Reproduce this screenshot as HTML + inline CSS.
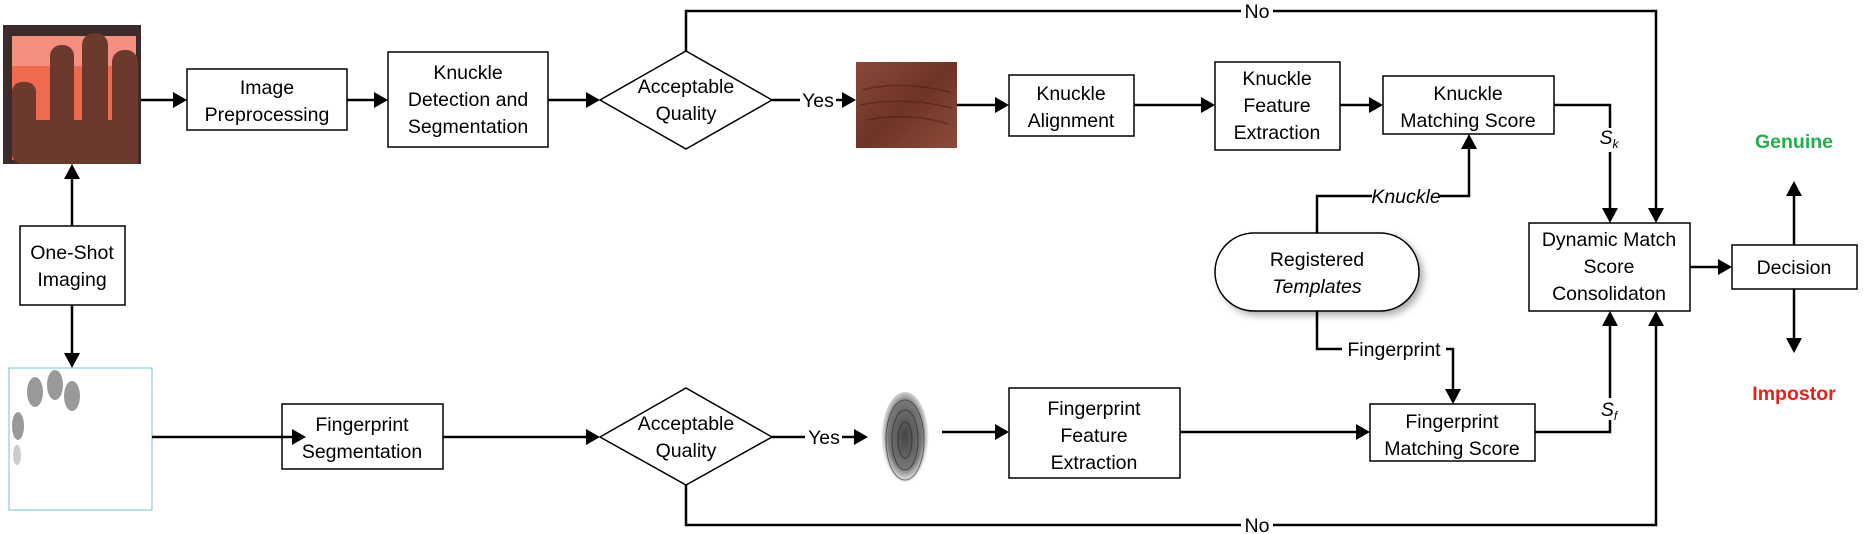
<!DOCTYPE html>
<html><head><meta charset="utf-8"><style>
html,body{margin:0;padding:0;background:#fff;}
svg{display:block;}
text{font-family:"Liberation Sans",sans-serif;font-size:19.5px;fill:#000;}
</style></head><body>
<svg width="1864" height="534" viewBox="0 0 1864 534" xmlns="http://www.w3.org/2000/svg">
<defs>
<filter id="sh" x="-20%" y="-20%" width="140%" height="140%"><feGaussianBlur stdDeviation="4"/></filter>
<linearGradient id="sk" x1="0" y1="0" x2="1" y2="1"><stop offset="0" stop-color="#8a4a3a"/><stop offset="0.5" stop-color="#6e3426"/><stop offset="1" stop-color="#8d4b3b"/></linearGradient>
<radialGradient id="fp" cx="0.5" cy="0.45" r="0.5"><stop offset="0" stop-color="#444"/><stop offset="0.7" stop-color="#777"/><stop offset="1" stop-color="#fff"/></radialGradient>
</defs>
<g fill="none" stroke="#000" stroke-width="2.5">
<rect x="3" y="25" width="138" height="139" fill="#3d2b2b" stroke="none"/>
<rect x="12" y="36" width="124" height="124" fill="#f06a50" stroke="none"/>
<rect x="12" y="36" width="124" height="30" fill="#f59080" stroke="none"/>
<g fill="#6b3a2c" stroke="none">
<rect x="12" y="82" width="24" height="82" rx="10"/>
<rect x="50" y="45" width="24" height="119" rx="11"/>
<rect x="82" y="33" width="26" height="131" rx="12"/>
<rect x="112" y="50" width="26" height="114" rx="12"/>
<rect x="20" y="120" width="118" height="44"/>
</g>
<rect x="9" y="368" width="143" height="142" fill="#fff" stroke="#6cc4d8" stroke-width="1"/>
<g fill="#999" stroke="none">
<ellipse cx="35" cy="392" rx="8" ry="15"/><ellipse cx="55" cy="385" rx="8" ry="15"/><ellipse cx="72" cy="396" rx="8" ry="15"/><ellipse cx="18" cy="426" rx="6" ry="14"/><ellipse cx="17" cy="455" rx="4" ry="10" fill="#ccc"/>
</g>
<rect x="856" y="62" width="101" height="86" fill="url(#sk)" stroke="none"/>
<g stroke="#4e2018" stroke-width="1.5" opacity="0.6"><path d="M862 90 Q900 80 950 92"/><path d="M860 105 Q905 96 952 108"/><path d="M866 120 Q910 112 948 124"/></g>
<ellipse cx="905" cy="440" rx="24" ry="48" fill="url(#fp)" stroke="none"/>
<g stroke="#222" stroke-width="1" opacity="0.6"><ellipse cx="905" cy="440" rx="19" ry="40"/><ellipse cx="905" cy="440" rx="13" ry="30"/><ellipse cx="905" cy="440" rx="7" ry="18"/></g>

<g stroke-width="1.5" fill="#fff">
<rect x="187" y="69" width="160" height="61"/>
<rect x="388" y="52" width="160" height="95"/>
<polygon points="600,100 686,51 772,100 686,149"/>
<rect x="20" y="226" width="105" height="79"/>
<rect x="282" y="404" width="161" height="65"/>
<polygon points="600,437 686,388 772,437 686,485"/>
<rect x="1009" y="75" width="125" height="61"/>
<rect x="1215" y="62" width="125" height="88"/>
<rect x="1383" y="76" width="171" height="58"/>
<rect x="1529" y="223" width="161" height="88"/>
<rect x="1732" y="245" width="125" height="44"/>
<rect x="1009" y="388" width="171" height="90"/>
<rect x="1370" y="404" width="165" height="57"/>
</g>
<rect x="1219" y="237" width="204" height="78" rx="39" fill="#000" opacity="0.35" stroke="none" filter="url(#sh)"/>
<rect x="1215" y="233" width="204" height="78" rx="39" fill="#fff" stroke-width="1.5"/>

<path d="M141 100H177"/><path d="M347 100H378"/><path d="M548 100H590"/>
<path d="M686 51V11H1656V213"/>
<path d="M772 100H800"/><path d="M836 100H846"/>
<path d="M957 105H999"/><path d="M1134 105H1205"/><path d="M1340 105H1373"/>
<path d="M1554 105H1610V128"/><path d="M1610 152V213"/>
<path d="M1317 233V196H1372"/><path d="M1440 196H1469V144"/>
<path d="M1317 311V349H1342"/><path d="M1446 349H1453V394"/>
<path d="M72 226V174"/><path d="M72 305V358"/>
<path d="M152 437H296"/><path d="M443 437H590"/>
<path d="M772 437H805"/><path d="M842 437H858"/>
<path d="M942 432H999"/><path d="M1180 432H1360"/>
<path d="M1535 432H1610V420"/><path d="M1610 398V321"/>
<path d="M686 485V525H1656V321"/>
<path d="M1690 267H1722"/>
<path d="M1794 245V191"/><path d="M1794 289V343"/>
</g>
<g fill="#000">
<polygon points="187,100 173,92 173,108"/>
<polygon points="388,100 374,92 374,108"/>
<polygon points="600,100 586,92 586,108"/>
<polygon points="856,100 842,92 842,108"/>
<polygon points="1009,105 995,97 995,113"/>
<polygon points="1215,105 1201,97 1201,113"/>
<polygon points="1383,105 1369,97 1369,113"/>
<polygon points="1656,223 1648,208 1664,208"/>
<polygon points="1610,223 1602,208 1618,208"/>
<polygon points="1469,134 1461,149 1477,149"/>
<polygon points="1453,404 1445,389 1461,389"/>
<polygon points="72,164 64,179 80,179"/>
<polygon points="72,368 64,353 80,353"/>
<polygon points="306,437 292,429 292,445"/>
<polygon points="600,437 586,429 586,445"/>
<polygon points="868,437 854,429 854,445"/>
<polygon points="1009,432 995,424 995,440"/>
<polygon points="1370,432 1356,424 1356,440"/>
<polygon points="1610,311 1602,326 1618,326"/>
<polygon points="1656,311 1648,326 1664,326"/>
<polygon points="1732,267 1718,259 1718,275"/>
<polygon points="1794,181 1786,196 1802,196"/>
<polygon points="1794,353 1786,338 1802,338"/>
</g>
<rect x="1241" y="1" width="32" height="20" fill="#fff"/>
<rect x="1241" y="515" width="32" height="19" fill="#fff"/>
<g text-anchor="middle" transform="translate(0,1)">
<text x="1257" y="17">No</text>
<text x="1257" y="531">No</text>
<text x="818" y="106">Yes</text>
<text x="824" y="443">Yes</text>
<text x="267" y="93">Image</text><text x="267" y="120">Preprocessing</text>
<text x="468" y="78">Knuckle</text><text x="468" y="105">Detection and</text><text x="468" y="132">Segmentation</text>
<text x="686" y="92">Acceptable</text><text x="686" y="119">Quality</text>
<text x="72" y="258">One-Shot</text><text x="72" y="285">Imaging</text>
<text x="362" y="430">Fingerprint</text><text x="362" y="457">Segmentation</text>
<text x="686" y="429">Acceptable</text><text x="686" y="456">Quality</text>
<text x="1071" y="99">Knuckle</text><text x="1071" y="126">Alignment</text>
<text x="1277" y="84">Knuckle</text><text x="1277" y="111">Feature</text><text x="1277" y="138">Extraction</text>
<text x="1468" y="99">Knuckle</text><text x="1468" y="126">Matching Score</text>
<text x="1317" y="265">Registered</text><text x="1317" y="292" font-style="italic">Templates</text>
<text x="1406" y="202" font-style="italic">Knuckle</text>
<text x="1394" y="355">Fingerprint</text>
<text x="1609" y="245">Dynamic Match</text><text x="1609" y="272">Score</text><text x="1609" y="299">Consolidaton</text>
<text x="1794" y="273">Decision</text>
<text x="1094" y="414">Fingerprint</text><text x="1094" y="441">Feature</text><text x="1094" y="468">Extraction</text>
<text x="1452" y="427">Fingerprint</text><text x="1452" y="454">Matching Score</text>
<text x="1609" y="143" font-style="italic">S<tspan font-size="12" dy="4">k</tspan></text>
<text x="1609" y="415" font-style="italic">S<tspan font-size="12" dy="4">f</tspan></text>
<text x="1794" y="147" font-weight="bold" style="fill:#1fb04c">Genuine</text>
<text x="1794" y="399" font-weight="bold" style="fill:#e8201c">Impostor</text>
</g>
</svg>
</body></html>
